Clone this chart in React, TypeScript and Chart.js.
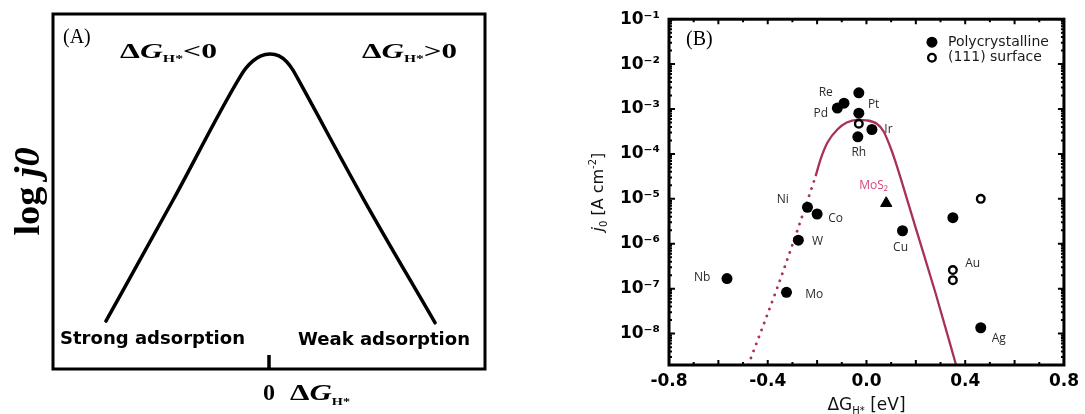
import React, { useEffect, useRef } from 'react';
import { Chart, registerables } from 'chart.js';

Chart.register(...registerables);

// ---------- Panel A : schematic volcano (arbitrary units) ----------
const schemeX = [-0.755, -0.444, -0.134, -0.106, -0.074, -0.037, 0.005, 0.046, 0.083, 0.111, 0.134, 0.44, 0.769];
const schemeY = [1.35, 4.76, 8.23, 8.48, 8.68, 8.82, 8.87, 8.82, 8.65, 8.42, 8.17, 4.76, 1.3];

// ---------- Panel B : j0 vs ΔG_H* ----------
const polyX = [-0.031, -0.091, -0.118, -0.031, 0.022, -0.035, -0.239, -0.2, -0.276, -0.565, -0.324, 0.146, 0.35, 0.463];
const polyY = [2.3e-3, 1.35e-3, 1.05e-3, 8.1e-4, 3.5e-4, 2.4e-4, 6.5e-6, 4.6e-6, 1.2e-6, 1.68e-7, 8.3e-8, 1.95e-6, 3.8e-6, 1.35e-8];
const surfX = [-0.031, 0.463, 0.35, 0.35];
const surfY = [4.7e-4, 1.0e-5, 2.6e-7, 1.55e-7];
const mos2X = [0.08];
const mos2Y = [8.0e-6];
const fitDotX = [-0.479, -0.36, -0.252, -0.206];
const fitDotY = [2.0e-9, 1.1e-7, 5.6e-6, 3.2e-5];
const fitX = [-0.206, -0.186, -0.158, -0.118, -0.08, -0.038, 0.0, 0.042, 0.069, 0.095, 0.115, 0.136, 0.2, 0.28, 0.363];
const fitY = [3.2e-5, 7.6e-5, 1.8e-4, 3.5e-4, 5.0e-4, 5.75e-4, 5.6e-4, 4.7e-4, 3.2e-4, 1.5e-4, 7.4e-5, 3.2e-5, 2.2e-6, 7.9e-8, 2.0e-9];
const labelNames = ['Re', 'Pd', 'Pt', 'Ir', 'Rh', 'Ni', 'Co', 'W', 'Nb', 'Mo', 'MoS₂', 'Cu', 'Au', 'Ag'];
const labelX = [-0.165, -0.185, 0.029, 0.089, -0.031, -0.339, -0.125, -0.198, -0.666, -0.212, 0.029, 0.138, 0.43, 0.536];
const labelY = [2.3e-3, 8.1e-4, 1.23e-3, 3.5e-4, 1.07e-4, 9.8e-6, 3.6e-6, 1.1e-6, 1.74e-7, 7.4e-8, 1.95e-5, 8.1e-7, 3.7e-7, 7.6e-9];
const yTickExponents = [-8, -7, -6, -5, -4, -3, -2, -1];
const xTickValues = [-0.8, -0.4, 0, 0.4, 0.8];
const legendLabels = ['Polycrystalline', '(111) surface'];

const CURVE = '#a8305f';
const SERIF = '"Liberation Serif", "Times New Roman", serif';
const SANS = '"DejaVu Sans", sans-serif';
const LABEL_SANS = '"Open Sans", "DejaVu Sans", sans-serif';

const SUP: Record<string, string> = { '-': '⁻', '0': '⁰', '1': '¹', '2': '²', '3': '³', '4': '⁴', '5': '⁵', '6': '⁶', '7': '⁷', '8': '⁸', '9': '⁹' };
const toSup = (s: string) => s.split('').map((c) => SUP[c] ?? c).join('');

type Seg = { t: string; font: string; dy?: number };

function richWidth(ctx: CanvasRenderingContext2D, segs: Seg[]) {
  let w = 0;
  for (const s of segs) {
    ctx.font = s.font;
    w += ctx.measureText(s.t).width;
  }
  return w;
}

function drawRich(
  ctx: CanvasRenderingContext2D,
  segs: Seg[],
  x: number,
  y: number,
  align: 'left' | 'center',
  targetW?: number,
  rotate?: number
) {
  const w = richWidth(ctx, segs);
  const sx = targetW ? targetW / w : 1;
  ctx.save();
  ctx.translate(x, y);
  if (rotate) ctx.rotate(rotate);
  ctx.scale(sx, 1);
  let cx = align === 'center' ? -w / 2 : 0;
  ctx.textAlign = 'left';
  ctx.textBaseline = 'alphabetic';
  for (const s of segs) {
    ctx.font = s.font;
    ctx.fillText(s.t, cx, s.dy || 0);
    cx += ctx.measureText(s.t).width;
  }
  ctx.restore();
}

const panelAPlugin = {
  id: 'panelA',
  afterDraw(chart: any) {
    const ctx: CanvasRenderingContext2D = chart.ctx;
    const { left, right, top, bottom } = chart.chartArea;
    ctx.save();
    ctx.strokeStyle = '#000';
    ctx.fillStyle = '#000';
    ctx.lineWidth = 3;
    ctx.strokeRect(left, top, right - left, bottom - top);
    const x0 = chart.scales.x.getPixelForValue(0);
    ctx.lineWidth = 3.5;
    ctx.beginPath();
    ctx.moveTo(x0, bottom);
    ctx.lineTo(x0, bottom - 14);
    ctx.stroke();

    drawRich(ctx, [{ t: '(A)', font: `20px ${SERIF}` }], left + 10, top + 29, 'left');

    const dg = (sign: string): Seg[] => [
      { t: 'Δ', font: `bold 20px ${SERIF}` },
      { t: 'G', font: `italic bold 20px ${SERIF}` },
      { t: 'H*', font: `bold 10px ${SERIF}`, dy: 4 },
      { t: sign + '0', font: `bold 20px ${SERIF}` },
    ];
    drawRich(ctx, dg('<'), left + 67, top + 44, 'left', 97);
    drawRich(ctx, dg('>'), left + 309, top + 44, 'left', 95);

    drawRich(ctx, [{ t: 'Strong adsorption', font: `bold 18px ${SANS}` }], left + 7, bottom - 25, 'left', 185);
    drawRich(ctx, [{ t: 'Weak adsorption', font: `bold 18px ${SANS}` }], left + 245, bottom - 24, 'left', 172);

    drawRich(ctx, [{ t: '0', font: `bold 24px ${SERIF}` }], x0, bottom + 31, 'center');
    drawRich(
      ctx,
      [
        { t: 'Δ', font: `bold 24px ${SERIF}` },
        { t: 'G', font: `italic bold 24px ${SERIF}` },
        { t: 'H*', font: `bold 11px ${SERIF}`, dy: 5 },
      ],
      x0 + 21,
      bottom + 31,
      'left',
      60
    );

    drawRich(
      ctx,
      [
        { t: 'log ', font: `bold 36px ${SERIF}` },
        { t: 'j0', font: `italic bold 36px ${SERIF}` },
      ],
      left - 14,
      (top + bottom) / 2,
      'center',
      88,
      -Math.PI / 2
    );
    ctx.restore();
  },
};

const panelBPlugin = {
  id: 'panelB',
  afterDraw(chart: any) {
    const ctx: CanvasRenderingContext2D = chart.ctx;
    const { left, right, top, bottom } = chart.chartArea;
    const xs = chart.scales.x;
    const ys = chart.scales.y;
    ctx.save();
    ctx.strokeStyle = '#000';
    ctx.fillStyle = '#000';

    // inward ticks
    ctx.lineWidth = 2;
    ctx.beginPath();
    for (let i = -8; i <= 8; i++) {
      const px = xs.getPixelForValue(i / 10);
      const len = i % 2 === 0 ? 5 : 3;
      ctx.moveTo(px, bottom);
      ctx.lineTo(px, bottom - len);
      ctx.moveTo(px, top);
      ctx.lineTo(px, top + len);
    }
    for (let d = -9; d <= -1; d++) {
      for (let m = 1; m <= 9; m++) {
        const v = m * Math.pow(10, d);
        if (v < ys.min * 0.999 || v > ys.max * 1.001) continue;
        const py = ys.getPixelForValue(v);
        const len = m === 1 ? 6 : 3;
        ctx.moveTo(left, py);
        ctx.lineTo(left + len, py);
        ctx.moveTo(right, py);
        ctx.lineTo(right - len, py);
      }
    }
    ctx.stroke();

    // frame
    ctx.lineWidth = 3;
    ctx.strokeRect(left, top, right - left, bottom - top);

    // panel tag
    drawRich(ctx, [{ t: '(B)', font: `20px ${SERIF}` }], left + 17, top + 26, 'left');

    // legend
    const lx = right - 132;
    const ly1 = top + 23;
    const ly2 = top + 38.5;
    ctx.beginPath();
    ctx.arc(lx, ly1, 5.5, 0, Math.PI * 2);
    ctx.fill();
    ctx.beginPath();
    ctx.lineWidth = 2.4;
    ctx.arc(lx, ly2, 3.8, 0, Math.PI * 2);
    ctx.fillStyle = '#fff';
    ctx.fill();
    ctx.stroke();
    ctx.fillStyle = '#1a1a1a';
    ctx.font = `14px ${SANS}`;
    ctx.textAlign = 'left';
    ctx.textBaseline = 'middle';
    ctx.fillText(legendLabels[0], lx + 16, ly1);
    ctx.fillText(legendLabels[1], lx + 16, ly2);

    // point labels
    ctx.font = `12px ${LABEL_SANS}`;
    ctx.textAlign = 'center';
    ctx.textBaseline = 'middle';
    labelNames.forEach((name, i) => {
      ctx.fillStyle = name.startsWith('MoS') ? '#d4467f' : '#2b2b2b';
      ctx.fillText(name, xs.getPixelForValue(labelX[i]), ys.getPixelForValue(labelY[i]));
    });

    // axis titles
    ctx.fillStyle = '#111';
    drawRich(
      ctx,
      [
        { t: 'ΔG', font: `17px ${SANS}` },
        { t: 'H*', font: `10px ${SANS}`, dy: 4 },
        { t: ' [eV]', font: `17px ${SANS}` },
      ],
      (left + right) / 2,
      bottom + 45,
      'center'
    );
    drawRich(
      ctx,
      [
        { t: 'j', font: `italic 16px ${SANS}` },
        { t: '0', font: `10px ${SANS}`, dy: 4 },
        { t: ' [A cm', font: `16px ${SANS}` },
        { t: '-2', font: `10px ${SANS}`, dy: -7 },
        { t: ']', font: `16px ${SANS}` },
      ],
      left - 66,
      (top + bottom) / 2,
      'center',
      undefined,
      -Math.PI / 2
    );
    ctx.restore();
  },
};

export default function App() {
  const refA = useRef<HTMLCanvasElement>(null);
  const refB = useRef<HTMLCanvasElement>(null);

  useEffect(() => {
    const chartA = new Chart(refA.current as HTMLCanvasElement, {
      type: 'scatter',
      data: {
        datasets: [
          {
            data: schemeX.map((x, i) => ({ x, y: schemeY[i] })),
            showLine: true,
            borderColor: '#000',
            borderWidth: 3.5,
            pointRadius: 0,
            cubicInterpolationMode: 'monotone',
            borderCapStyle: 'round',
            borderJoinStyle: 'round',
          } as any,
        ],
      },
      options: {
        responsive: false,
        animation: false,
        events: [],
        layout: { padding: { left: 53, right: 55, top: 14, bottom: 45 } },
        plugins: { legend: { display: false }, tooltip: { enabled: false } },
        scales: {
          x: { type: 'linear', display: false, min: -1, max: 1 },
          y: { type: 'linear', display: false, min: 0, max: 10 },
        },
      },
      plugins: [panelAPlugin],
    });

    const tickFont = { family: 'DejaVu Sans', weight: 'bold' as const, size: 17 };
    const chartB = new Chart(refB.current as HTMLCanvasElement, {
      type: 'scatter',
      data: {
        datasets: [
          {
            label: 'fit (extrapolated)',
            data: fitDotX.map((x, i) => ({ x, y: fitDotY[i] })),
            showLine: true,
            borderColor: CURVE,
            borderWidth: 2.8,
            borderDash: [0.1, 7.4],
            borderCapStyle: 'round',
            pointRadius: 0,
            cubicInterpolationMode: 'monotone',
            order: 4,
          } as any,
          {
            label: 'fit',
            data: fitX.map((x, i) => ({ x, y: fitY[i] })),
            showLine: true,
            borderColor: CURVE,
            borderWidth: 2.3,
            pointRadius: 0,
            cubicInterpolationMode: 'monotone',
            order: 3,
          } as any,
          {
            label: legendLabels[0],
            data: polyX.map((x, i) => ({ x, y: polyY[i] })),
            pointStyle: 'circle',
            pointRadius: 5.5,
            pointBackgroundColor: '#000',
            pointBorderColor: '#000',
            pointBorderWidth: 0,
            order: 2,
          },
          {
            label: legendLabels[1],
            data: surfX.map((x, i) => ({ x, y: surfY[i] })),
            pointStyle: 'circle',
            pointRadius: 3.8,
            pointBackgroundColor: '#fff',
            pointBorderColor: '#000',
            pointBorderWidth: 2.4,
            order: 1,
          },
          {
            label: 'MoS2',
            data: mos2X.map((x, i) => ({ x, y: mos2Y[i] })),
            pointStyle: 'triangle',
            pointRadius: 6.5,
            pointBackgroundColor: '#000',
            pointBorderColor: '#000',
            pointBorderWidth: 1,
            order: 0,
          },
        ],
      },
      options: {
        responsive: false,
        animation: false,
        events: [],
        layout: { padding: { left: 0, right: 16, top: 15, bottom: 0 } },
        plugins: { legend: { display: false }, tooltip: { enabled: false } },
        scales: {
          x: {
            type: 'linear',
            min: -0.8,
            max: 0.8,
            afterFit(s: any) {
              s.height = 49;
            },
            afterBuildTicks(s: any) {
              s.ticks = xTickValues.map((v) => ({ value: v }));
            },
            ticks: {
              callback: (v: any) => Number(v).toFixed(1),
              font: tickFont,
              color: '#000',
              padding: 6,
              maxRotation: 0,
              autoSkip: false,
            },
            grid: { display: false, drawTicks: false },
            border: { display: false },
          },
          y: {
            type: 'logarithmic',
            min: 2e-9,
            max: 0.1,
            afterFit(s: any) {
              s.width = 129;
            },
            afterBuildTicks(s: any) {
              s.ticks = yTickExponents.map((e) => ({ value: Math.pow(10, e) }));
            },
            ticks: {
              callback: (v: any) => '10' + toSup(String(Math.round(Math.log10(Number(v))))),
              font: tickFont,
              color: '#000',
              padding: 9,
              autoSkip: false,
            },
            grid: { display: false, drawTicks: false },
            border: { display: false },
          },
        },
      },
      plugins: [panelBPlugin],
    });

    return () => {
      chartA.destroy();
      chartB.destroy();
    };
  }, []);

  return (
    <div style={{ position: 'absolute', left: 0, top: 0, width: 1085, height: 414, background: '#fff' }}>
      <canvas ref={refA} width={540} height={414} style={{ position: 'absolute', left: 0, top: 0 }} />
      <canvas ref={refB} width={545} height={414} style={{ position: 'absolute', left: 540, top: 0 }} />
    </div>
  );
}
